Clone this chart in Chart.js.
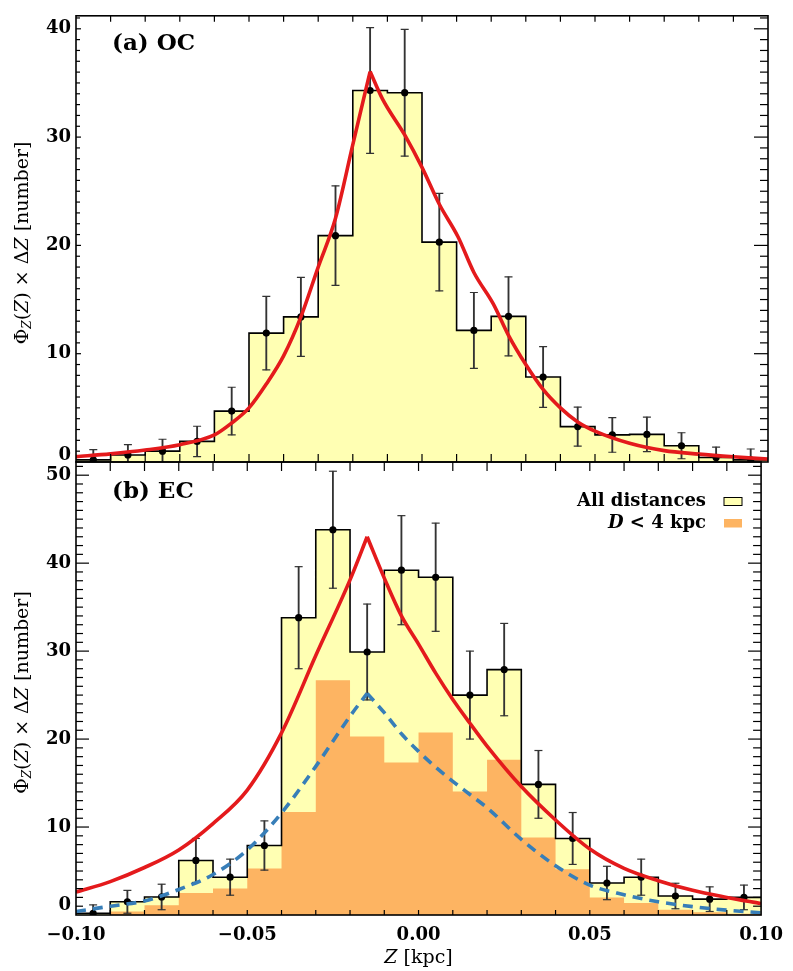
<!DOCTYPE html>
<html>
<head>
<meta charset="utf-8">
<script src="https://cdn.jsdelivr.net/npm/chart.js@4.4.1/dist/chart.umd.min.js"></script>
<style>
html,body{margin:0;padding:0;background:#fff;width:793px;height:971px;overflow:hidden}
#wrap{position:relative;width:793px;height:971px}
canvas{position:absolute;left:0;top:0}
</style>
</head>
<body>
<div id="wrap">
<canvas id="cA" width="793" height="971"></canvas>
<canvas id="cB" width="793" height="971"></canvas>
</div>
<script>
// ---------------- data ----------------
const zCenters = [-0.095,-0.085,-0.075,-0.065,-0.055,-0.045,-0.035,-0.025,-0.015,-0.005,
                   0.005, 0.015, 0.025, 0.035, 0.045, 0.055, 0.065, 0.075, 0.085, 0.095];
const binWidth = 0.01;

// (a) OC
const ocCounts = [0.2,0.65,1.0,1.9,4.7,11.9,13.4,20.9,34.3,34.1,20.3,12.15,13.45,7.85,3.27,2.5,2.55,1.5,0.42,0.2];
const ocErrors = [0.95,0.95,1.1,1.4,2.2,3.4,3.65,4.6,5.8,5.85,4.5,3.5,3.65,2.8,1.8,1.6,1.6,1.2,0.95,1.0];
const ocFitZ   = [-0.1,-0.09,-0.08,-0.07,-0.06,-0.055,-0.05,-0.045,-0.04,-0.035,-0.03,-0.025,-0.02,-0.015,
                  -0.0114,-0.005,0,0.005,0.0104,0.015,0.0206,0.025,0.03,0.035,0.04,0.045,0.05,0.06,0.07,0.08,0.09,0.1];
const ocFitVal = [0.5,0.75,1.1,1.6,2.5,3.6,5.0,7.2,9.8,13.4,18.0,22.5,29.3,36.05,
                  33.5,30.2,27.2,23.8,20.8,17.5,14.6,11.7,9.0,6.7,5.0,3.7,2.85,1.73,1.05,0.73,0.48,0.27];

// (b) EC
const ecCounts     = [0.2,1.5,2.05,6.2,4.3,7.9,33.8,43.8,29.9,39.2,38.4,25.0,27.9,14.85,8.7,3.64,4.3,2.16,1.8,2.0];
const ecErrors     = [0.95,1.3,1.45,2.5,2.05,2.8,5.8,6.65,5.45,6.2,6.15,5.0,5.25,3.85,2.95,1.9,2.05,1.45,1.4,1.4];
const ecNearCounts = [0,0.4,1.1,2.5,3.0,5.3,11.7,26.7,20.3,17.35,20.75,14.05,17.65,8.8,5.2,2.0,1.36,0.6,0.3,0.15];
const ecFitZ   = [-0.1,-0.09,-0.08,-0.07,-0.06,-0.05,-0.04,-0.03,-0.02,-0.015,-0.01,-0.005,0,0.005,0.01,0.015,0.02,0.03,0.04,0.05,0.06,0.07,0.08,0.09,0.1];
const ecFitVal = [2.6,3.8,5.4,7.4,10.4,14.2,20.7,29.5,38.1,43.0,38.3,34.0,30.8,27.5,24.5,21.8,19.2,14.6,10.8,7.5,5.3,3.9,2.8,2.0,1.3];
const ecNearFitVal = [0.4,1.0,1.6,2.9,4.6,7.4,11.6,16.9,22.6,25.2,23.0,20.6,18.6,16.8,15.2,13.7,12.2,8.6,5.6,3.4,2.3,1.5,0.95,0.55,0.25];

const xTickValues = [-0.10,-0.05,0.00,0.05,0.10];
const yTickStepMajor = 10;
const legendLabels = ['All distances', 'D < 4 kpc'];
const panelLabels = ['(a) OC', '(b) EC'];

// ---------------- styling ----------------
const SERIF = "'DejaVu Serif', serif";
const YELLOW = '#ffffb3', ORANGE = '#fdb462', RED = '#e41a1c', BLUE = '#377eb8';

// ---------------- table builders ----------------
function stepData(counts){
  const pts = zCenters.map((c,i)=>({x:c-binWidth/2, y:counts[i]}));
  const n = zCenters.length-1;
  pts.push({x:zCenters[n]+binWidth/2, y:counts[n]});
  return pts;
}
function barData(counts, errs){ return zCenters.map((c,i)=>({x:c, y:[counts[i]-errs[i], counts[i]+errs[i]]})); }
function capData(counts, errs){
  const out=[]; zCenters.forEach((c,i)=>{ out.push({x:c,y:counts[i]+errs[i]}); out.push({x:c,y:counts[i]-errs[i]}); });
  return out;
}
function pointData(counts){ return zCenters.map((c,i)=>({x:c,y:counts[i]})); }
function halves(zs, vs){
  const k = vs.indexOf(Math.max(...vs));
  const pts = zs.map((z,i)=>({x:z,y:vs[i]}));
  return [pts.slice(0,k+1), pts.slice(k)];
}
function curveSets(zs, vs, color, dash, order){
  return halves(zs, vs).map(h=>({type:'line', data:h, borderColor:color, borderWidth:3.6, borderDash:dash,
    pointRadius:0, fill:false, cubicInterpolationMode:'monotone', order:order, borderCapStyle:'butt'}));
}
function histSets(counts, errs){
  return [
    {type:'line', data:stepData(counts), stepped:'before', fill:'origin', backgroundColor:YELLOW, borderWidth:0, pointRadius:0, order:20},
    {type:'line', data:stepData(counts), stepped:'before', fill:false, borderColor:'#000', borderWidth:1.6, pointRadius:0, order:15},
    {type:'bar', data:barData(counts, errs), backgroundColor:'#333', barThickness:1.2, borderWidth:0, grouped:false, order:12},
    {type:'scatter', data:capData(counts, errs), pointStyle:'line', pointRadius:4, borderColor:'#333', borderWidth:1.2, order:11},
    {type:'scatter', data:pointData(counts), pointStyle:'circle', pointRadius:3.6, backgroundColor:'#000', borderColor:'#000', borderWidth:0, order:10}
  ];
}

function fmtX(v){ const r = Math.round(v*100)/100; return (r<0?'\u2212':'') + Math.abs(r).toFixed(2); }

function line(ctx,x1,y1,x2,y2){ ctx.beginPath(); ctx.moveTo(x1,y1); ctx.lineTo(x2,y2); ctx.stroke(); }

function drawRich(ctx, parts, cx, cy, rotate){
  ctx.save();
  ctx.translate(cx, cy);
  if (rotate) ctx.rotate(-Math.PI/2);
  let total = 0;
  parts.forEach(p=>{ ctx.font = p.f; p.w = ctx.measureText(p.t).width; total += p.w; });
  let x = -total/2;
  ctx.textBaseline = 'middle'; ctx.textAlign = 'left'; ctx.fillStyle = '#000';
  parts.forEach(p=>{ ctx.font = p.f; ctx.fillText(p.t, x, p.dy||0); x += p.w; });
  ctx.restore();
}

function yTitleParts(){
  const R = "19px " + SERIF, I = "italic 19px " + SERIF, S = "italic 12px " + SERIF;
  return [{t:'\u03A6',f:R},{t:'Z',f:S,dy:5},{t:'(',f:R},{t:'Z',f:I},{t:') \u00D7 \u0394',f:R},{t:'Z',f:I},{t:' [number]',f:R}];
}

function decor(p){
  return {
    id:'decor'+p.name,
    afterDatasetsDraw(chart){
      const ctx = chart.ctx, a = chart.chartArea, x = chart.scales.x, y = chart.scales.y;
      ctx.save();
      ctx.strokeStyle = '#000';
      ctx.lineWidth = 1.2;
      for (let i=-9;i<=9;i++){
        const px = x.getPixelForValue(i*binWidth);
        line(ctx, px, a.bottom, px, a.bottom - p.tickBottom);
        line(ctx, px, a.top, px, a.top + p.tickTop);
      }
      for (let v=1; v<=Math.floor(p.yMax); v++){
        const py = y.getPixelForValue(v);
        const major = v % yTickStepMajor === 0;
        line(ctx, a.left, py, a.left + (major?p.yLM:p.yLm), py);
        line(ctx, a.right, py, a.right - (major?p.yRM:p.yRm), py);
      }
      ctx.lineWidth = 1.6;
      ctx.strokeRect(a.left, a.top, a.right-a.left, a.bottom-a.top);
      ctx.restore();
    },
    afterDraw(chart){
      const ctx = chart.ctx, a = chart.chartArea, y = chart.scales.y;
      ctx.save();
      ctx.fillStyle = '#000';
      // zero tick label (shifted up like the original)
      ctx.font = "bold 18px " + SERIF; ctx.textAlign='right'; ctx.textBaseline='middle';
      ctx.fillText('0', a.left - 5, y.getPixelForValue(0) - p.zeroShift);
      // panel label
      ctx.font = "bold 23px " + SERIF; ctx.textAlign='left';
      ctx.fillText(p.label, a.left + 36, a.top + p.labelDy);
      // y title
      drawRich(ctx, yTitleParts(), 23, (a.top + a.bottom)/2 + 4, true);
      if (p.legend){
        ctx.font = "bold 18px " + SERIF; ctx.textAlign='right'; ctx.textBaseline='middle';
        ctx.fillText(legendLabels[0], 706, 501);
        // second label: italic D + rest
        const rest = legendLabels[1].slice(1);
        ctx.font = "bold 18px " + SERIF; const wRest = ctx.measureText(rest).width;
        ctx.fillText(rest, 706, 523);
        ctx.font = "italic bold 18px " + SERIF;
        ctx.fillText(legendLabels[1][0], 706 - wRest, 523);
        ctx.fillStyle = YELLOW; ctx.fillRect(724, 497.5, 18, 8);
        ctx.strokeStyle = '#000'; ctx.lineWidth = 1; ctx.strokeRect(724, 497.5, 18, 8);
        ctx.fillStyle = ORANGE; ctx.fillRect(724, 519, 18, 8.5);
      }
      if (p.showX){
        drawRich(ctx, [{t:'Z',f:"italic 19px "+SERIF},{t:' [kpc]',f:"19px "+SERIF}], x0(chart), 958, false);
      }
      ctx.restore();
    }
  };
}
function x0(chart){ return chart.scales.x.getPixelForValue(0); }

function makeChart(id, p, datasets){
  return new Chart(document.getElementById(id), {
    type:'scatter',
    data:{datasets:datasets},
    options:{
      responsive:false, animation:false, devicePixelRatio:1, events:[],
      layout:{padding:{left:0, right:25, top:p.padTop, bottom:p.padBottom}},
      plugins:{legend:{display:false}, tooltip:{enabled:false}},
      scales:{
        x:{type:'linear', min:-0.1, max:0.1, offset:false, display:p.showX,
           grid:{display:false, drawTicks:false}, border:{display:false},
           afterBuildTicks: s => { s.ticks = xTickValues.map(v=>({value:v})); },
           ticks:{font:{family:SERIF, weight:'bold', size:18}, color:'#000', padding:10, maxRotation:0, autoSkip:false, callback:fmtX},
           afterFit: s => { s.height = p.xHeight; }},
        y:{type:'linear', min:0, max:p.yMax,
           grid:{display:false, drawTicks:false}, border:{display:false},
           ticks:{stepSize:yTickStepMajor, includeBounds:false, font:{family:SERIF, weight:'bold', size:18}, color:'#000', padding:5,
                  callback: v => (v!==0 && v % yTickStepMajor === 0) ? String(v) : ''},
           afterFit: s => { s.width = 76; }}
      }
    },
    plugins:[decor(p)]
  });
}

const panelA = {name:'A', label:panelLabels[0], yMax:41.2, padTop:10, padBottom:971-462, showX:false, xHeight:0,
  tickTop:6, tickBottom:8, yLM:5, yLm:4, yRM:14, yRm:8, zeroShift:7, labelDy:28, legend:false};
const panelB = {name:'B', label:panelLabels[1], yMax:51.5, padTop:462, padBottom:0, showX:true, xHeight:56,
  tickTop:9, tickBottom:5, yLM:13, yLm:7, yRM:13, yRm:8, zeroShift:10, labelDy:30, legend:true};

const dsA = [].concat(histSets(ocCounts, ocErrors), curveSets(ocFitZ, ocFitVal, RED, [], 2));
const dsB = [
  {type:'line', data:stepData(ecCounts), stepped:'before', fill:'origin', backgroundColor:YELLOW, borderWidth:0, pointRadius:0, order:22},
  {type:'line', data:stepData(ecNearCounts), stepped:'before', fill:'origin', backgroundColor:ORANGE, borderWidth:0, pointRadius:0, order:21}
].concat(histSets(ecCounts, ecErrors).slice(1), curveSets(ecFitZ, ecNearFitVal, BLUE, [10,7], 3), curveSets(ecFitZ, ecFitVal, RED, [], 2));

makeChart('cA', panelA, dsA);
makeChart('cB', panelB, dsB);
</script>
</body>
</html>
